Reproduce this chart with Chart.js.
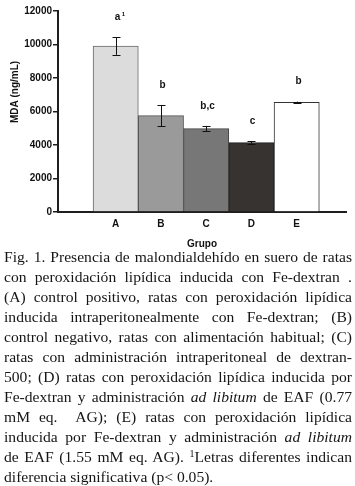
<!DOCTYPE html>
<html><head><meta charset="utf-8">
<script src="https://cdn.jsdelivr.net/npm/chart.js@4.4.1/dist/chart.umd.min.js"></script>
<style>
html,body{margin:0;padding:0;background:#fff;width:355px;height:486px;overflow:hidden}
#wrap{position:absolute;left:0;top:0;width:355px;height:250px}
#cap{position:absolute;left:4px;top:247px;width:348px;font-family:"Liberation Serif","Times New Roman",serif;font-size:15.6px;line-height:20px;color:#151515}
#cap div{text-align:justify;text-align-last:justify}
#cap div.last{text-align-last:left}
#cap sup{font-size:10px;line-height:0;vertical-align:5px}
</style>
</head><body>
<div id="wrap"><canvas id="c" width="355" height="250"></canvas></div>
<div id="cap">
<div>Fig. 1. Presencia de malondialdehído en suero de ratas</div>
<div>con peroxidación lipídica inducida con Fe-dextran .</div>
<div>(A) control positivo, ratas con peroxidación lipídica</div>
<div>inducida intraperitonealmente con Fe-dextran; (B)</div>
<div>control negativo, ratas con alimentación habitual; (C)</div>
<div>ratas con administración intraperitoneal de dextran-</div>
<div>500; (D) ratas con peroxidación lipídica inducida por</div>
<div>Fe-dextran y administración <i>ad libitum</i> de EAF (0.77</div>
<div>mM eq. &nbsp;AG); (E) ratas con peroxidación lipídica</div>
<div>inducida por Fe-dextran y administración <i>ad libitum</i></div>
<div>de EAF (1.55 mM eq. AG). <sup>1</sup>Letras diferentes indican</div>
<div class="last">diferencia significativa (p&lt; 0.05).</div>
</div>
<script>
// ---- data ----
const groups = ['A', 'B', 'C', 'D', 'E'];
const mdaMean = [9900, 5750, 4980, 4140, 6550];
const mdaErr = [520, 620, 160, 90, 40];
const sigLetters = ['a', 'b', 'b,c', 'c', 'b'];
const sigSup = ['1', '', '', '', ''];
const yTicks = [0, 2000, 4000, 6000, 8000, 10000, 12000];
const barColors = ['#dcdcdc', '#9a9a9a', '#777777', '#363331', '#ffffff'];

const AX = '#1e1e1e';
const sansBold = {family: 'Liberation Sans, Arial, sans-serif', size: 10, weight: 'bold'};

const extras = {
  id: 'extras',
  afterDatasetsDraw(chart) {
    const ctx = chart.ctx, x = chart.scales.x, y = chart.scales.y;
    ctx.save();
    ctx.strokeStyle = '#111';
    ctx.lineWidth = 1;
    groups.forEach((g, i) => {
      const cx = Math.round(x.getPixelForValue(i));
      const t = y.getPixelForValue(mdaMean[i] + mdaErr[i]);
      const b = y.getPixelForValue(mdaMean[i] - mdaErr[i]);
      ctx.beginPath();
      ctx.moveTo(cx + 0.5, t); ctx.lineTo(cx + 0.5, b);
      ctx.moveTo(cx - 3.5, Math.round(t) + 0.5); ctx.lineTo(cx + 4.5, Math.round(t) + 0.5);
      ctx.moveTo(cx - 3.5, Math.round(b) + 0.5); ctx.lineTo(cx + 4.5, Math.round(b) + 0.5);
      ctx.stroke();
      // significance letters
      ctx.fillStyle = '#111';
      ctx.font = 'bold 10px "Liberation Sans", Arial, sans-serif';
      ctx.textAlign = 'center';
      ctx.textBaseline = 'middle';
      const ly = t - 20;
      const w = ctx.measureText(sigLetters[i]).width;
      ctx.fillText(sigLetters[i], cx + 1.5, ly);
      if (sigSup[i]) {
        ctx.font = 'bold 6px "Liberation Sans", Arial, sans-serif';
        ctx.textAlign = 'left';
        ctx.fillText(sigSup[i], cx + 1.5 + w / 2 + 1.5, ly - 3);
      }
    });
    // y axis title
    ctx.translate(15, 92);
    ctx.rotate(-Math.PI / 2);
    ctx.font = 'bold 10px "Liberation Sans", Arial, sans-serif';
    ctx.textAlign = 'center';
    ctx.textBaseline = 'middle';
    ctx.fillStyle = '#111';
    ctx.fillText('MDA (ng/mL)', 0, 0);
    ctx.restore();
  }
};

new Chart(document.getElementById('c'), {
  type: 'bar',
  data: {
    datasets: [{
      data: groups.map((g, i) => ({x: i, y: mdaMean[i]})),
      backgroundColor: barColors,
      borderColor: ['#6a6a6a', '#555', '#444', '#222', '#333'],
      borderWidth: 1,
      barPercentage: 1,
      categoryPercentage: 1
    }]
  },
  options: {
    responsive: false,
    animation: false,
    events: [],
    layout: {padding: {left: 0, right: 9, top: 11, bottom: 0}},
    plugins: {legend: {display: false}, tooltip: {enabled: false}},
    scales: {
      x: {
        type: 'linear',
        offset: false,
        min: -1.275,
        max: 5.09,
        afterBuildTicks(s) { s.ticks = groups.map((g, i) => ({value: i})); },
        afterFit(s) { s.height = 38; },
        ticks: {
          autoSkip: false, maxRotation: 0, padding: 6,
          color: '#111', font: sansBold,
          callback: (v) => groups[v] ?? ''
        },
        grid: {display: false, drawTicks: false},
        border: {display: true, color: AX, width: 2},
        title: {display: true, text: 'Grupo', color: '#111', font: sansBold, padding: 0}
      },
      y: {
        min: 0, max: 12000,
        afterBuildTicks(s) { s.ticks = yTicks.map(v => ({value: v})); },
        afterFit(s) { s.width = 58; },
        ticks: {color: '#111', font: sansBold, padding: 1, callback: (v) => String(v)},
        grid: {drawOnChartArea: false, drawTicks: true, tickLength: 5, color: AX, lineWidth: 1.5},
        border: {display: true, color: AX, width: 2}
      }
    }
  },
  plugins: [extras]
});
</script>
</body></html>
